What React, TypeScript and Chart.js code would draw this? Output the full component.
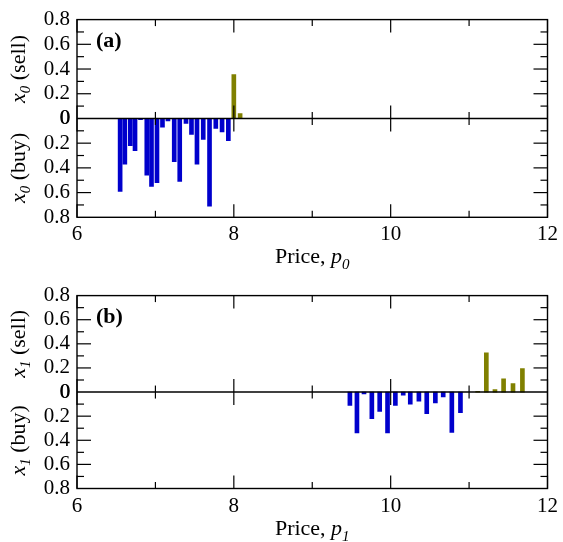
import React, { useEffect, useRef } from 'react';
import { Chart, registerables } from 'chart.js';

Chart.register(...registerables);

// ---------- data ----------
const buyPricesA = [6.55, 6.61, 6.68, 6.74, 6.81, 6.89, 6.95, 7.02, 7.09, 7.16, 7.24, 7.31, 7.39, 7.46, 7.53, 7.61, 7.69, 7.77, 7.85, 7.93];
const buyValuesA = [0.59, 0.37, 0.22, 0.26, 0.01, 0.46, 0.55, 0.52, 0.07, 0.02, 0.35, 0.51, 0.04, 0.13, 0.37, 0.17, 0.71, 0.08, 0.11, 0.18];
const sellPricesA = [8.0, 8.08];
const sellValuesA = [0.355, 0.04];

const buyPricesB = [9.48, 9.57, 9.66, 9.76, 9.86, 9.96, 10.06, 10.16, 10.25, 10.36, 10.46, 10.57, 10.67, 10.78, 10.89];
const buyValuesB = [0.11, 0.34, 0.015, 0.22, 0.16, 0.34, 0.11, 0.025, 0.1, 0.075, 0.18, 0.09, 0.04, 0.335, 0.17];
const sellPricesB = [11.11, 11.22, 11.33, 11.44, 11.56, 11.68];
const sellValuesB = [0.005, 0.325, 0.02, 0.11, 0.07, 0.195];

const X_MIN = 6;
const X_MAX = 12;
const Y_LIM = 0.8;
const xTickLabels = ['6', '8', '10', '12'];
const xTickPositions = [6, 7, 8, 9, 10, 11, 12];
const yMinorTicks = [-0.7, -0.6, -0.5, -0.4, -0.3, -0.2, -0.1, 0.1, 0.2, 0.3, 0.4, 0.5, 0.6, 0.7];
const yMajorTicks = [-0.6, -0.4, -0.2, 0.2, 0.4, 0.6];

const BLUE = '#0000CC';
const OLIVE = '#808000';
const SERIF = '"Liberation Serif", "Times New Roman", Times, serif';

type Part = { text: string; font: string; dy: number; w?: number };

function fnt(style: string, weight: string, size: number) {
  return `${style} ${weight} ${size}px ${SERIF}`;
}

function drawRich(ctx: CanvasRenderingContext2D, parts: Part[], x: number, y: number) {
  let total = 0;
  for (const p of parts) {
    ctx.font = p.font;
    p.w = ctx.measureText(p.text).width;
    total += p.w;
  }
  let cx = x - total / 2;
  ctx.textAlign = 'left';
  ctx.textBaseline = 'alphabetic';
  for (const p of parts) {
    ctx.font = p.font;
    ctx.fillText(p.text, cx, y + p.dy);
    cx += p.w || 0;
  }
}

function makePlugin(panel: string, sub: string) {
  return {
    id: 'panelDecor' + panel,
    afterDatasetsDraw(chart: any) {
      const { ctx, chartArea: ca, scales } = chart;
      const xs = scales.x;
      const ys = scales.y;
      const y0 = ys.getPixelForValue(0);
      ctx.save();
      ctx.strokeStyle = '#000';
      ctx.fillStyle = '#000';
      const line = (x1: number, y1: number, x2: number, y2: number) => {
        ctx.beginPath();
        ctx.moveTo(x1, y1);
        ctx.lineTo(x2, y2);
        ctx.stroke();
      };
      ctx.lineWidth = 1.2;
      for (const v of xTickPositions) {
        const px = xs.getPixelForValue(v);
        const L = v % 2 === 0 ? 13 : 6.5;
        line(px, ca.top, px, ca.top + L);
        line(px, ca.bottom, px, ca.bottom - L);
        line(px, y0 - L, px, y0 + L);
      }
      for (const v of yMinorTicks) {
        const py = ys.getPixelForValue(v);
        const L = yMajorTicks.some((m) => Math.abs(m - v) < 1e-9) ? 14 : 7;
        line(ca.left, py, ca.left + L, py);
        line(ca.right, py, ca.right - L, py);
      }
      ctx.lineWidth = 1.6;
      line(ca.left, y0, ca.right, y0);
      ctx.lineWidth = 1.4;
      ctx.strokeRect(ca.left, ca.top, ca.right - ca.left, ca.bottom - ca.top);

      // the zero label is shared by both half-axes (drawn twice -> heavier)
      ctx.font = fnt('normal', 'normal', 21);
      ctx.textAlign = 'right';
      ctx.textBaseline = 'middle';
      ctx.fillText('0', ca.left - 7 + 0.5, y0);

      // y axis titles
      const titles: [string, number][] = [
        [' (sell)', (ca.top + y0) / 2],
        [' (buy)', (y0 + ca.bottom) / 2],
      ];
      for (const [t, cy] of titles) {
        ctx.save();
        ctx.translate(25, cy);
        ctx.rotate(-Math.PI / 2);
        drawRich(
          ctx,
          [
            { text: 'x', font: fnt('italic', 'normal', 22), dy: 0 },
            { text: sub, font: fnt('italic', 'normal', 15), dy: 5 },
            { text: t, font: fnt('normal', 'normal', 22), dy: 0 },
          ],
          0,
          0
        );
        ctx.restore();
      }

      // x title
      drawRich(
        ctx,
        [
          { text: 'Price, ', font: fnt('normal', 'normal', 22), dy: 0 },
          { text: 'p', font: fnt('italic', 'normal', 22), dy: 0 },
          { text: sub, font: fnt('italic', 'normal', 15), dy: 6 },
        ],
        (ca.left + ca.right) / 2,
        ca.bottom + 46
      );

      // panel label
      ctx.font = fnt('normal', 'bold', 22);
      ctx.textAlign = 'left';
      ctx.textBaseline = 'alphabetic';
      ctx.fillText(`(${panel})`, ca.left + 19, ca.top + 27);
      ctx.restore();
    },
  };
}

type PanelProps = {
  panel: string;
  sub: string;
  buyPrices: number[];
  buyValues: number[];
  sellPrices: number[];
  sellValues: number[];
  height: number;
  padTop: number;
  plotH: number;
};

function Panel(props: PanelProps) {
  const ref = useRef<HTMLCanvasElement | null>(null);
  useEffect(() => {
    if (!ref.current) return;
    const tickFont = { family: SERIF, size: 21 };
    const xAxisH = props.height - props.padTop - props.plotH;
    const chart = new Chart(ref.current, {
      type: 'bar',
      data: {
        datasets: [
          {
            data: props.buyPrices.map((p, i) => ({ x: p, y: -props.buyValues[i] })),
            backgroundColor: BLUE,
            borderWidth: 0,
            barThickness: 4,
            grouped: false,
          } as any,
          {
            data: props.sellPrices.map((p, i) => ({ x: p, y: props.sellValues[i] })),
            backgroundColor: OLIVE,
            borderWidth: 0,
            barThickness: 4,
            grouped: false,
          } as any,
        ],
      },
      options: {
        responsive: false,
        animation: false,
        layout: { padding: { top: props.padTop, right: 12, left: 0, bottom: 0 } },
        plugins: { legend: { display: false }, tooltip: { enabled: false } },
        scales: {
          x: {
            type: 'linear',
            min: X_MIN,
            max: X_MAX,
            offset: false,
            grid: { display: false, drawTicks: false },
            border: { display: false },
            ticks: {
              stepSize: 1,
              autoSkip: false,
              maxRotation: 0,
              color: '#000',
              font: tickFont,
              padding: 5,
              callback: (v: any) => (xTickLabels.includes(String(v)) ? String(v) : ''),
            },
            afterFit: (s: any) => {
              s.height = xAxisH;
            },
          },
          y: {
            type: 'linear',
            min: -Y_LIM,
            max: Y_LIM,
            grid: { display: false, drawTicks: false },
            border: { display: false },
            ticks: {
              stepSize: 0.2,
              autoSkip: false,
              color: '#000',
              font: tickFont,
              padding: 7,
              callback: (v: any) => (Math.abs(v) < 1e-9 ? '0' : Math.abs(v).toFixed(1)),
            },
            afterFit: (s: any) => {
              s.width = 77;
            },
          },
        },
      } as any,
      plugins: [makePlugin(props.panel, props.sub)],
    });
    return () => chart.destroy();
  }, []);
  return <canvas ref={ref} width={563} height={props.height} style={{ display: 'block' }} />;
}

export default function App() {
  return (
    <div style={{ position: 'absolute', left: 0, top: 0, width: 563, height: 542, background: '#fff' }}>
      <Panel
        panel="a"
        sub="0"
        buyPrices={buyPricesA}
        buyValues={buyValuesA}
        sellPrices={sellPricesA}
        sellValues={sellValuesA}
        height={276}
        padTop={15}
        plotH={202.3}
      />
      <Panel
        panel="b"
        sub="1"
        buyPrices={buyPricesB}
        buyValues={buyValuesB}
        sellPrices={sellPricesB}
        sellValues={sellValuesB}
        height={266}
        padTop={10}
        plotH={202.5}
      />
    </div>
  );
}
